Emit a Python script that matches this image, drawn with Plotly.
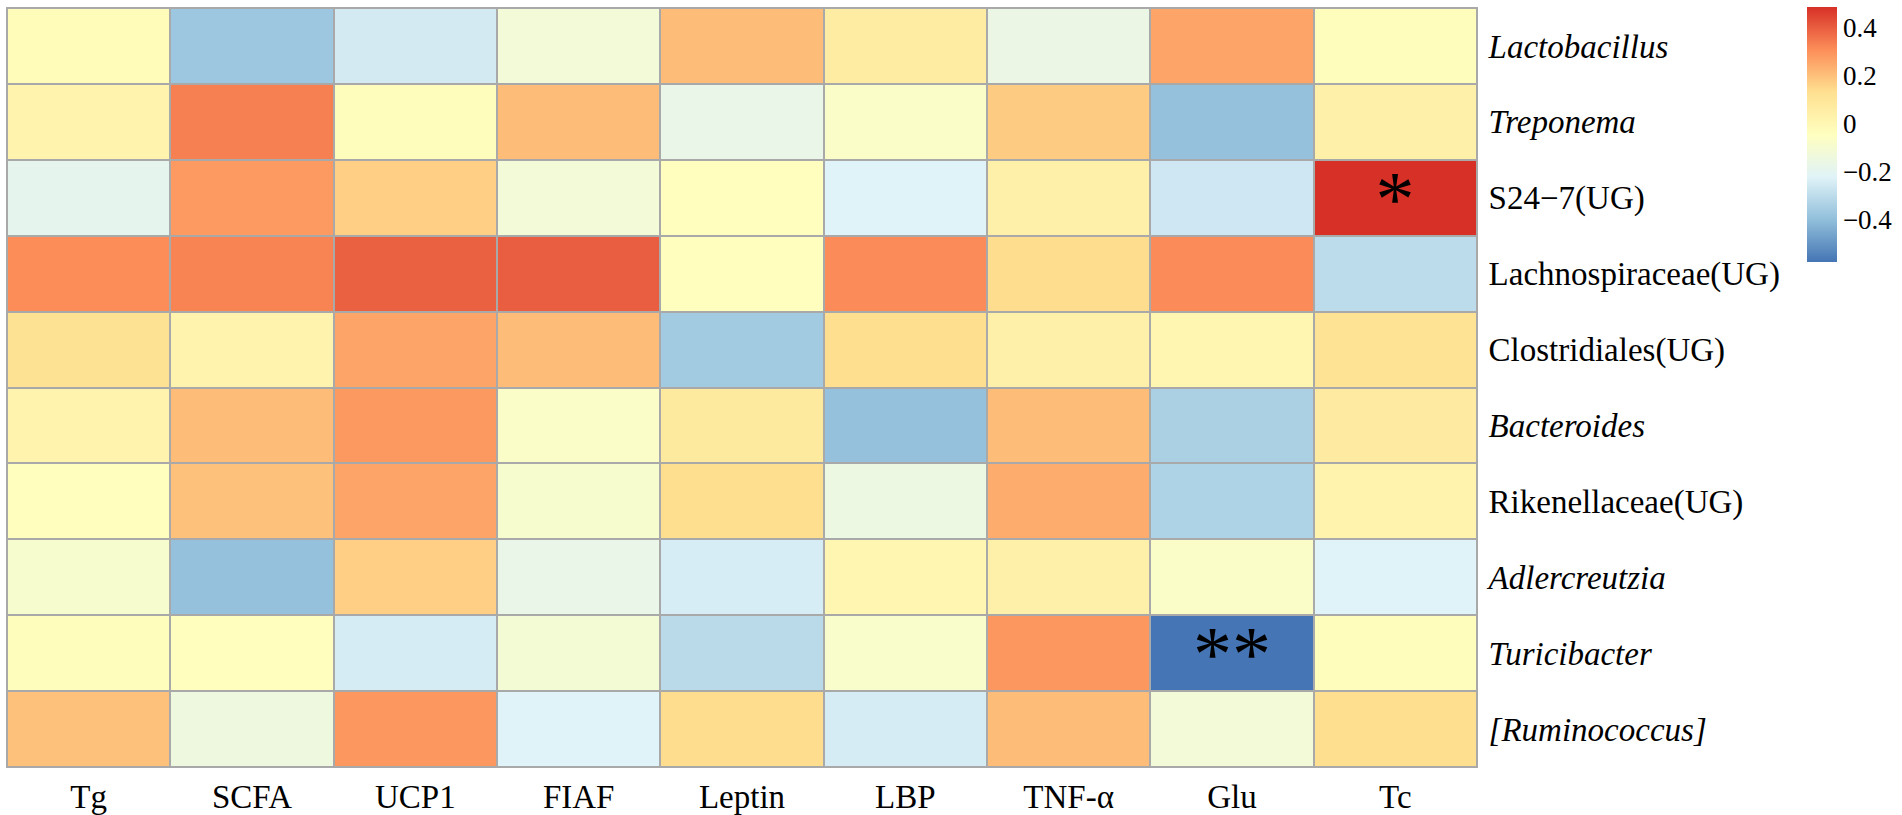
import plotly.graph_objects as go

# correlation heatmap: gut genera vs. host markers
markers = ["Tg", "SCFA", "UCP1", "FIAF", "Leptin", "LBP", "TNF-α", "Glu", "Tc"]
genera = [
    "<i>Lactobacillus</i>",
    "<i>Treponema</i>",
    "S24−7(UG)",
    "Lachnospiraceae(UG)",
    "Clostridiales(UG)",
    "<i>Bacteroides</i>",
    "Rikenellaceae(UG)",
    "<i>Adlercreutzia</i>",
    "<i>Turicibacter</i>",
    "<i>[Ruminococcus]</i>",
]

# values, row by row (same order as genera)
lactobacillus = [-0.02, -0.37, -0.25, -0.12, 0.21, 0.064, -0.16, 0.262, -0.03]
treponema = [0.025, 0.335, -0.03, 0.21, -0.17, -0.07, 0.178, -0.39, 0.04]
s24_7 = [-0.19, 0.282, 0.17, -0.12, -0.04, -0.22, 0.04, -0.26, 0.4875]
lachnospiraceae = [0.31, 0.33, 0.395, 0.40, -0.04, 0.315, 0.14, 0.315, -0.30]
clostridiales = [0.12, 0.025, 0.26, 0.21, -0.36, 0.135, 0.04, 0.01, 0.115]
bacteroides = [0.025, 0.21, 0.285, -0.07, 0.075, -0.39, 0.21, -0.34, 0.07]
rikenellaceae = [-0.04, 0.20, 0.26, -0.09, 0.135, -0.15, 0.245, -0.33, 0.025]
adlercreutzia = [-0.09, -0.39, 0.17, -0.17, -0.24, 0.01, 0.04, -0.07, -0.22]
turicibacter = [-0.03, -0.04, -0.245, -0.11, -0.305, -0.08, 0.29, -0.575, -0.03]
ruminococcus = [0.20, -0.14, 0.29, -0.22, 0.14, -0.245, 0.21, -0.12, 0.135]

z = [lactobacillus, treponema, s24_7, lachnospiraceae, clostridiales,
     bacteroides, rikenellaceae, adlercreutzia, turicibacter, ruminococcus]

# significance marks
sig = [[""] * 9 for _ in genera]
sig[2][8] = "*"
sig[8][7] = "**"

cbar_ticks = [0.4, 0.2, 0, -0.2, -0.4]
cbar_labels = ["0.4", "0.2", "0", "−0.2", "−0.4"]

# rev(brewer.pal(7, "RdYlBu"))
rdylbu = ["#4575B4", "#91BFDB", "#E0F3F8", "#FFFFBF", "#FEE090", "#FC8D59", "#D73027"]
colorscale = [[i / 6, c] for i, c in enumerate(rdylbu)]

W, H = 1902, 815

fig = go.Figure(go.Heatmap(
    z=z, x=markers, y=genera,
    text=sig, texttemplate="%{text}",
    textfont=dict(family="Liberation Serif", size=78, color="black"),
    colorscale=colorscale, zmin=-0.575, zmax=0.4875,
    xgap=2, ygap=2,
    hoverongaps=False,
    colorbar=dict(
        x=1807 / W, xanchor="left", xpad=0,
        y=1 - 7 / H, yanchor="top", ypad=0,
        len=255, lenmode="pixels", thickness=30,
        outlinewidth=0,
        tickvals=cbar_ticks, ticktext=cbar_labels,
        ticks="",
        tickfont=dict(family="Liberation Serif", size=27, color="black"),
    ),
))

fig.update_layout(
    width=W, height=H,
    margin=dict(l=0, r=0, t=0, b=0),
    paper_bgcolor="white",
    plot_bgcolor="#A9A9A9",
    font=dict(family="Liberation Serif", size=33, color="black"),
)
fig.update_xaxes(domain=[7 / W, 1477 / W], showgrid=False, zeroline=False,
                 ticks="", tickfont=dict(size=33),
                 showline=True, linecolor="#A9A9A9", linewidth=1, mirror=True)
fig.update_yaxes(domain=[46 / H, 1 - 8 / H], showgrid=False, zeroline=False,
                 autorange="reversed", side="right", ticks="",
                 ticklabelstandoff=4, tickfont=dict(size=33),
                 showline=True, linecolor="#A9A9A9", linewidth=1, mirror=True)

# drop the default body margin so the 1902x815 figure fills the window
fig.write_html("out.html", config={"displayModeBar": False},
               post_script="document.body.style.margin='0';document.body.style.overflow='hidden';")
